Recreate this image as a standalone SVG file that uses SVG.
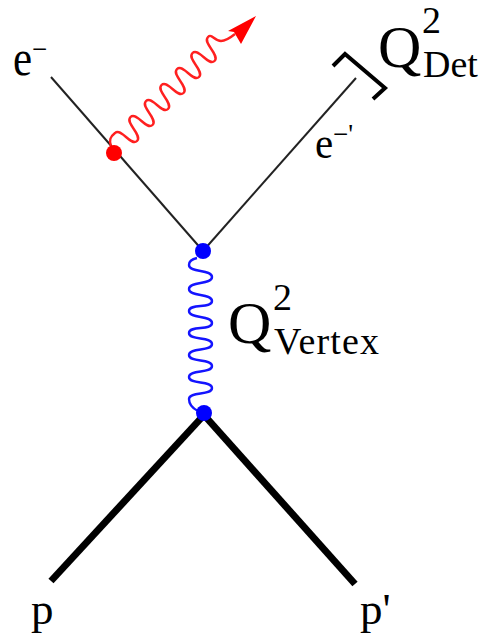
<svg xmlns="http://www.w3.org/2000/svg" width="483" height="633" viewBox="0 0 483 633">
<style>
text{font-family:"Liberation Serif","Times New Roman",serif;fill:#000}
.lep{fill:none;stroke:#222;stroke-width:2}
.pro{fill:none;stroke:#000;stroke-width:7}
.q{font-size:60px}.sub{font-size:38px}.sup{font-size:38px}.p{font-size:45px}
</style>
<rect width="483" height="633" fill="#fff"/>
<g id="connectors">
<path id="electron-in" class="lep" d="M51 77L203 251"/>
<path id="electron-out" class="lep" d="M203 251L356 78"/>
<path id="proton-in" class="pro" d="M51 581L204 415"/>
<path id="proton-out" class="pro" d="M204 415L355 584"/>
<path id="bracket" fill="none" stroke="#000" stroke-width="4" d="M333 66L345 54L385 88L373 99"/>
<path id="photon-blue" fill="none" stroke="#1414ff" stroke-width="2.400" d="M197 258C192 259 189 261 189 265C189 273 212 269 212 277C212 285 189 281 189 289C189 297 212 293 212 301C212 309 189 303 189 311C189 319 212 315 212 323C212 331 189 325 189 333C189 341 212 336 212 344C212 352 189 347 189 355C189 363 212 358 212 366C212 374 189 369 189 377C189 385 212 380 212 388C212 396 189 391 189 399C189 403 192 408 198 411"/>
<path id="photon-red" fill="none" stroke="#ff2020" stroke-width="2.400" d="M111 146C109 140 110 137 115 133C121 127 131 147 137 141C143 135 124.500 123 130.500 117C136.500 111 146.500 131 152.500 125C158.500 119 140 107 146 101C152 95 162 115 168 109C174 103 155.500 91 161.500 85C167.500 79 177.500 99 183.500 93C189.500 87 171 75 177 69C183 63 193 83 199 77C205 71 186.500 59 192.500 53C198.500 47 208.500 67 214.500 61C220.500 55 202 43 208 37C212 33 214 41 221 41C226 41 230 38 235 34"/>
<path id="photon-arrow" fill="#ff0000" d="M256 16L228 31L234 32L241 44Z"/>
</g>
<g id="node-emission"><circle cx="114" cy="153" r="8" fill="#ff0000"/></g>
<g id="node-vertex-top"><circle cx="203" cy="251" r="8" fill="#0000ff"/></g>
<g id="node-vertex-bottom"><circle cx="204" cy="413" r="8" fill="#0000ff"/></g>
<g id="label-e"><text transform="translate(13 75) scale(1 1.2)" font-size="43">e</text><text x="32" y="58" font-size="27">−</text></g>
<g id="label-e-prime"><text transform="translate(315 158) scale(1 1.1)" font-size="41">e</text><text x="333" y="143" font-size="27">−'</text></g>
<g id="label-p"><text class="p" x="31" y="624">p</text></g>
<g id="label-p-prime"><text class="p" x="360" y="624">p'</text></g>
<g id="label-q-det"><text class="q" x="378" y="67">Q</text><text class="sup" x="422" y="33">2</text><text class="sub" x="423" y="77">Det</text></g>
<g id="label-q-vertex"><text class="q" x="228" y="343">Q</text><text class="sup" x="273" y="310">2</text><text class="sub" x="274" y="354" textLength="105">Vertex</text></g>
</svg>
